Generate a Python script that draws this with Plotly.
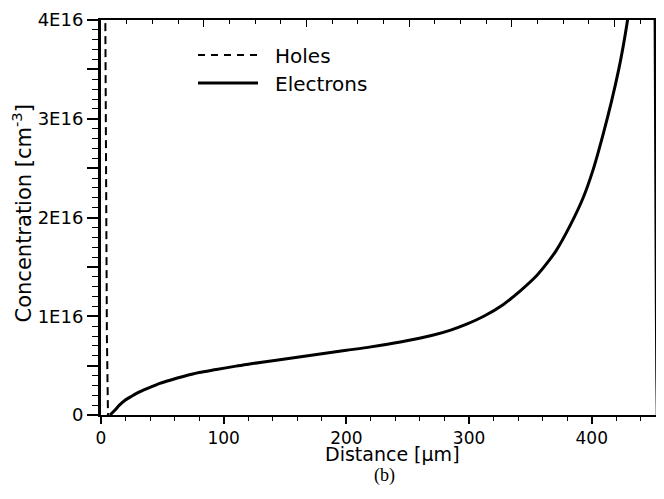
import plotly.graph_objects as go

# ---- data ----
holes_x = [3.5, 3.8, 4.2, 4.8, 5.7]
holes_y = [4.1e16, 3.0e16, 2.0e16, 0.8e16, 0.0]

elec_x = [7.3, 9, 11.4, 15, 19.6, 25, 31.8, 40, 48, 57, 67, 80, 94, 110, 121,
          140, 160, 180, 200, 220, 244, 271, 285, 298, 312, 328, 342, 355, 364,
          371, 382, 393, 401, 409, 416, 422, 426, 429.2, 431,
          None, 451.6, 452.0, 452.5, 453.0, 453.4]
elec_y = [0, 0.02, 0.05, 0.1, 0.15, 0.19, 0.236, 0.28, 0.32, 0.355, 0.39, 0.43,
          0.46, 0.495, 0.516, 0.55, 0.585, 0.62, 0.655, 0.69, 0.74, 0.81, 0.86,
          0.92, 1.0, 1.12, 1.26, 1.41, 1.545, 1.665, 1.91, 2.2, 2.48, 2.83, 3.17,
          3.5, 3.76, 4.0, 4.15,
          None, 4.1, 3.0, 1.5, 0.4, 0.0]
elec_y = [None if v is None else v * 1e16 for v in elec_y]

y_tickvals = [0, 0.5e16, 1e16, 1.5e16, 2e16, 2.5e16, 3e16, 3.5e16, 4e16]
y_ticktext = ["0", "", "1E16", "", "2E16", "", "3E16", "", "4E16"]
x_tickvals = [0, 100, 200, 300, 400]

legend_names = ["Holes", "Electrons"]

FONT = "DejaVu Sans"

fig = go.Figure()
fig.add_trace(go.Scatter(x=holes_x, y=holes_y, mode="lines", name=legend_names[0],
                         line=dict(color="black", width=2, dash="8px,5px"),
                         hoverinfo="skip"))
fig.add_trace(go.Scatter(x=elec_x, y=elec_y, mode="lines", name=legend_names[1],
                         line=dict(color="black", width=3, shape="spline",
                                   smoothing=0.8),
                         connectgaps=False, hoverinfo="skip"))
# helper trace so the mirrored top / right axes are drawn
fig.add_trace(go.Scatter(x=[None], y=[None], xaxis="x2", yaxis="y2",
                         mode="lines", showlegend=False, hoverinfo="skip"))

# the page body adds an 8px offset, so the figure is sized 8px smaller
fig.update_layout(
    width=656, height=491,
    margin=dict(l=93, r=6, t=12, b=84, autoexpand=False),
    paper_bgcolor="white", plot_bgcolor="white",
    showlegend=False,
    font=dict(family=FONT, size=18, color="black"),
    xaxis=dict(range=[0, 454], tickmode="array", tickvals=x_tickvals,
               ticks="outside", ticklen=7, tickwidth=1.5, tickcolor="black",
               minor=dict(dtick=20, tick0=0, ticks="outside", ticklen=4,
                          tickwidth=1, tickcolor="black"),
               showline=True, linewidth=2, linecolor="black",
               showgrid=False, zeroline=False, automargin=False,
               tickfont=dict(family=FONT, size=17)),
    xaxis2=dict(range=[0, 5.422], overlaying="x", side="top",
                tick0=0, dtick=1, ticks="inside", ticklen=7, tickwidth=1,
                tickcolor="black",
                minor=dict(dtick=0.25, tick0=0, ticks="inside", ticklen=4,
                           tickwidth=1, tickcolor="black"),
                showticklabels=False, showline=True, linewidth=2,
                linecolor="black", showgrid=False, zeroline=False,
                automargin=False),
    yaxis=dict(range=[0, 4e16], tickmode="array", tickvals=y_tickvals,
               ticktext=y_ticktext, ticks="outside", ticklen=11, tickwidth=1.5,
               tickcolor="black",
               minor=dict(dtick=1e15, tick0=0, ticks="outside", ticklen=6,
                          tickwidth=1, tickcolor="black"),
               showline=True, linewidth=3, linecolor="black",
               showgrid=False, zeroline=False, automargin=False,
               tickfont=dict(family=FONT, size=18)),
    yaxis2=dict(range=[0, 4e16], overlaying="y", side="right",
                tick0=0, dtick=0.5e16, ticks="outside", ticklen=7, tickwidth=1,
                tickcolor="black",
                minor=dict(dtick=1e15, tick0=0, ticks="outside", ticklen=4,
                           tickwidth=1, tickcolor="black"),
                showticklabels=False, showline=True, linewidth=2,
                linecolor="black", showgrid=False, zeroline=False,
                automargin=False),
)

# axis titles and caption
fig.add_annotation(text="Distance [μm]", xref="paper", yref="paper",
                   x=0.523, y=-0.098, showarrow=False,
                   xanchor="center", yanchor="middle",
                   font=dict(family=FONT, size=19))
fig.add_annotation(text="Concentration [cm<sup>-3</sup>]", xref="paper",
                   yref="paper", x=-0.142, y=0.51, textangle=-90,
                   showarrow=False, xanchor="center", yanchor="middle",
                   font=dict(family=FONT, size=21))
fig.add_annotation(text="(b)", xref="paper", yref="paper",
                   x=0.509, y=-0.154, showarrow=False,
                   xanchor="center", yanchor="middle",
                   font=dict(family="Liberation Serif", size=18))

# legend (drawn as styling in paper coordinates)
def px2x(p):
    return (p - 101) / 557.0

def px2y(p):
    return (415 - p) / 395.0

fig.add_shape(type="line", xref="paper", yref="paper",
              x0=px2x(198), x1=px2x(258), y0=px2y(55), y1=px2y(55),
              line=dict(color="black", width=2, dash="7px,6px"))
fig.add_shape(type="line", xref="paper", yref="paper",
              x0=px2x(198), x1=px2x(258), y0=px2y(83), y1=px2y(83),
              line=dict(color="black", width=3))
fig.add_annotation(text=legend_names[0], xref="paper", yref="paper",
                   x=px2x(273), y=px2y(56), showarrow=False,
                   xanchor="left", yanchor="middle",
                   font=dict(family=FONT, size=20))
fig.add_annotation(text=legend_names[1], xref="paper", yref="paper",
                   x=px2x(273), y=px2y(84), showarrow=False,
                   xanchor="left", yanchor="middle",
                   font=dict(family=FONT, size=20))

fig.write_html("out.html")
